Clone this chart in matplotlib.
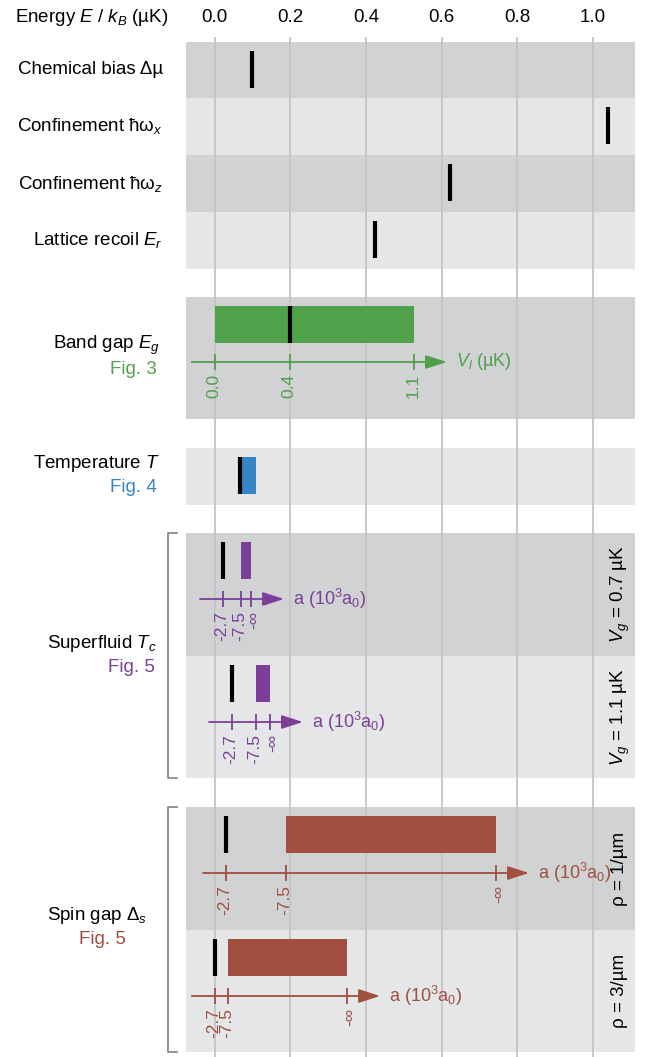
import matplotlib.pyplot as plt
from matplotlib.patches import Rectangle

plt.rcParams['font.family'] = ['Liberation Sans', 'DejaVu Sans']
plt.rcParams['mathtext.fontset'] = 'custom'
plt.rcParams['mathtext.rm'] = 'Liberation Sans'
plt.rcParams['mathtext.it'] = 'Liberation Sans:italic'
plt.rcParams['mathtext.bf'] = 'Liberation Sans:bold'

# ---- data (energies in µK) ----
energy_ticks = [0.0, 0.2, 0.4, 0.6, 0.8, 1.0]

single_labels = ["Chemical bias Δµ", r"Confinement ħω$_x$",
                 r"Confinement ħω$_z$", r"Lattice recoil $E_r$"]
single_values = [0.099, 1.041, 0.622, 0.423]

# band gap vs lattice depth V_l
bandgap_vl = ["0.0", "0.4", "1.1"]
bandgap_energy = [0.0, 0.199, 0.527]
bandgap_marker = 0.199

# temperature
temp_marker = 0.067
temp_range = [0.072, 0.109]

# scattering length ticks a (10^3 a0)
a_labels = ["-2.7", "-7.5", "-∞"]
# superfluid Tc for two band gaps V_g
sf_vg = ["0.7", "1.1"]
sf_energy = [[0.022, 0.070, 0.096], [0.046, 0.109, 0.146]]
# spin gap for two densities
spin_rho = ["1", "3"]
spin_energy = [[0.030, 0.189, 0.744], [0.0, 0.035, 0.350]]

# ---- colours ----
DARK = '#d1d2d4'
LIGHT = '#e5e6e8'
GREEN = '#4fa14a'
BLUE = '#3784c6'
PURPLE = '#7b3f9a'
RED = '#a04f40'
GRID = '#c4c4c4'
FS = 13.5     # labels
FS2 = 13      # scale texts
FS3 = 12.5    # rotated tick labels

W, H = 649, 1057
PX0, PXS = 214.7, 378.0   # pixel of E=0, pixels per µK

fig = plt.figure(figsize=(W / 100, H / 100), dpi=100)
bg = fig.add_axes([0, 0, 1, 1])
bg.set_xlim(0, W)
bg.set_ylim(H, 0)
bg.axis('off')

ax = fig.add_axes([0, 0, 1, 1])
ax.set_xlim(-PX0 / PXS, (W - PX0) / PXS)
ax.set_ylim(H, 0)
ax.axis('off')
ax.patch.set_visible(False)

def px(n):
    return n / PXS

# panels (top, bottom, shade)
rows = [(42, 98, DARK), (98, 155, LIGHT), (155, 212, DARK), (212, 269, LIGHT),
        (297, 419, DARK), (448, 505, LIGHT),
        (533, 656, DARK), (656, 778, LIGHT),
        (807, 930, DARK), (930, 1052, LIGHT)]
for top, bot, c in rows:
    bg.add_patch(Rectangle((186, top), 449, bot - top, color=c, lw=0, zorder=0))

# grid + top tick labels
ax.vlines(energy_ticks, 37, H, color=GRID, lw=1.3, zorder=1)
for e in energy_ticks:
    ax.text(e, 17, f"{e:.1f}", ha='center', va='center', fontsize=FS)
bg.text(15, 17, r"Energy $E$ / $k_B$ (µK)", ha='left', va='center', fontsize=FS)

BAR_H = 37

def marker(e, top):
    ax.vlines(e, top + 9, top + 9 + BAR_H, color='black', lw=3, zorder=4)

def bar(e0, e1, top, color):
    ax.add_patch(Rectangle((e0, top + 9), e1 - e0, BAR_H, color=color, lw=0, zorder=3))

def scale(energies, labels, y, color, name):
    ax.annotate('', xy=(energies[-1] + px(33), y), xytext=(energies[0] - px(23), y),
                arrowprops=dict(arrowstyle='-|>,head_length=1.3,head_width=0.42',
                                color=color, lw=1.3, mutation_scale=10,
                                shrinkA=0, shrinkB=0), zorder=4)
    ax.vlines(energies, y - 8, y + 8, color=color, lw=1.3, zorder=4)
    for e, l in zip(energies, labels):
        dx = 3 if '∞' in l else -1
        ax.text(e + px(dx), y + 12, l, rotation=90, ha='center', va='top',
                color=color, fontsize=FS3)
    ax.text(energies[-1] + px(42), y, name, ha='left', va='center',
            color=color, fontsize=FS2)

# single-value rows
for i, (lab, v) in enumerate(zip(single_labels, single_values)):
    top, bot, _ = rows[i]
    marker(v, top)
    bg.text(163, (top + bot) / 2, lab, ha='right', va='center', fontsize=FS)

# band gap
top = rows[4][0]
bar(bandgap_energy[0], bandgap_energy[-1], top, GREEN)
marker(bandgap_marker, top)
scale(bandgap_energy, bandgap_vl, 362, GREEN, r"$V_l$ (µK)")
bg.text(160, 345, r"Band gap $E_g$", ha='right', va='center', fontsize=FS)
bg.text(157, 370, "Fig. 3", ha='right', va='center', fontsize=FS, color=GREEN)

# temperature
top = rows[5][0]
bar(temp_range[0], temp_range[1], top, BLUE)
marker(temp_marker, top)
bg.text(160, 463, r"Temperature $T$", ha='right', va='center', fontsize=FS)
bg.text(157, 488, "Fig. 4", ha='right', va='center', fontsize=FS, color=BLUE)

# superfluid Tc
a_name = r"a (10$^3$a$_0$)"
for k, (vg, en) in enumerate(zip(sf_vg, sf_energy)):
    top, bot, _ = rows[6 + k]
    bar(en[1], en[2], top, PURPLE)
    marker(en[0], top)
    scale(en, a_labels, top + 66, PURPLE, a_name)
    bg.text(620, (top + bot) / 2, r"$V_g$ = " + vg + " µK", rotation=90,
            ha='center', va='center', fontsize=FS)
bg.plot([177, 168, 168, 177], [533, 533, 778, 778], color='#8a8a8a', lw=1.3)
bg.text(157, 643, r"Superfluid $T_c$", ha='right', va='center', fontsize=FS)
bg.text(155, 667, "Fig. 5", ha='right', va='center', fontsize=FS, color=PURPLE)

# spin gap
for k, (rho, en) in enumerate(zip(spin_rho, spin_energy)):
    top, bot, _ = rows[8 + k]
    bar(en[1], en[2], top, RED)
    marker(en[0], top)
    scale(en, a_labels, top + 66, RED, a_name)
    bg.text(620, (top + bot) / 2, "ρ = " + rho + "/µm", rotation=90,
            ha='center', va='center', fontsize=FS)
bg.plot([177, 168, 168, 177], [807, 807, 1052, 1052], color='#8a8a8a', lw=1.3)
bg.text(147, 915, r"Spin gap Δ$_s$", ha='right', va='center', fontsize=FS)
bg.text(126, 940, "Fig. 5", ha='right', va='center', fontsize=FS, color=RED)

fig.savefig('out.png', dpi=100)
